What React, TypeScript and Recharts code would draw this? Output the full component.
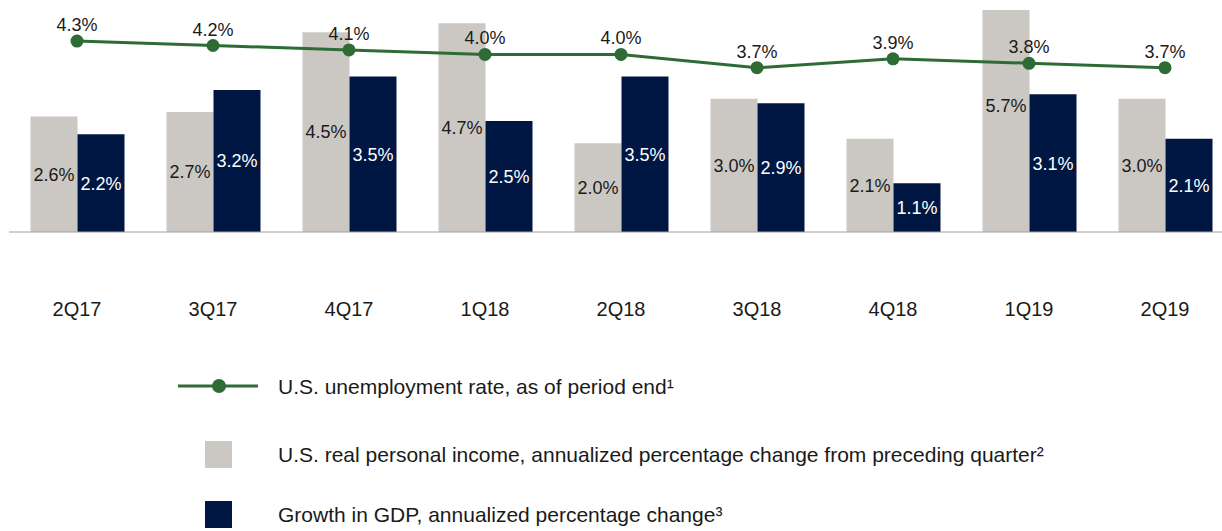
import { Bar, ComposedChart, LabelList, Line, XAxis, YAxis } from 'recharts';

const quarters = ['2Q17', '3Q17', '4Q17', '1Q18', '2Q18', '3Q18', '4Q18', '1Q19', '2Q19'];
const unemployment = [4.3, 4.2, 4.1, 4.0, 4.0, 3.7, 3.9, 3.8, 3.7];
const personalIncome = [2.6, 2.7, 4.5, 4.7, 2.0, 3.0, 2.1, 5.7, 3.0];
const gdpGrowth = [2.2, 3.2, 3.5, 2.5, 3.5, 2.9, 1.1, 3.1, 2.1];

const GREEN = '#2e6b35';
const GRAY = '#cbc8c3';
const NAVY = '#001743';
const FONT = '"Liberation Sans", Arial, sans-serif';

const data = quarters.map((q, i) => ({
  quarter: q,
  unemployment: unemployment[i],
  income: personalIncome[i],
  gdp: gdpGrowth[i],
}));

const pct = (v: any) => `${Number(v).toFixed(1)}%`;

function LegendRow({ top, icon, text }: { top: number; icon: React.ReactNode; text: string }) {
  return (
    <div style={{ position: 'absolute', left: 0, top, height: 0 }}>
      {icon}
      <span
        style={{
          position: 'absolute',
          left: 278,
          top: 0,
          transform: 'translateY(-50%)',
          whiteSpace: 'nowrap',
          fontSize: 21,
          color: '#1a1a1a',
          lineHeight: 1,
        }}
      >
        {text}
      </span>
    </div>
  );
}

export default function App() {
  return (
    <div
      style={{
        position: 'fixed',
        left: 0,
        top: 0,
        width: 1222,
        height: 531,
        overflow: 'hidden',
        background: '#fff',
        fontFamily: FONT,
      }}
    >
      <ComposedChart
        width={1240}
        height={340}
        data={data}
        margin={{ top: 10, right: 7, left: 9, bottom: 0 }}
        barCategoryGap={21.5}
        barGap={0}
        style={{ fontFamily: FONT }}
      >
        <XAxis
          dataKey="quarter"
          height={108}
          tickLine={false}
          tickSize={0}
          tickMargin={70}
          axisLine={{ stroke: '#a0a0a0', strokeWidth: 1 }}
          tick={{ fontSize: 20, fill: '#1a1a1a' }}
          interval={0}
        />
        <YAxis hide domain={[0, 5]} allowDataOverflow />
        <Bar dataKey="income" fill={GRAY} isAnimationActive={false}>
          <LabelList
            dataKey="income"
            position="center"
            formatter={pct}
            style={{ fontSize: 18, fill: '#1a1a1a' }}
          />
        </Bar>
        <Bar dataKey="gdp" fill={NAVY} isAnimationActive={false}>
          <LabelList
            dataKey="gdp"
            position="center"
            formatter={pct}
            style={{ fontSize: 18, fill: '#ffffff' }}
          />
        </Bar>
        <Line
          dataKey="unemployment"
          type="linear"
          stroke={GREEN}
          strokeWidth={3}
          dot={{ r: 6.5, fill: GREEN, stroke: GREEN, strokeWidth: 0 }}
          isAnimationActive={false}
        >
          <LabelList
            dataKey="unemployment"
            position="top"
            offset={10}
            formatter={pct}
            style={{ fontSize: 18, fill: '#1a1a1a' }}
          />
        </Line>
      </ComposedChart>

      <LegendRow
        top={386}
        text="U.S. unemployment rate, as of period end¹"
        icon={
          <svg width={90} height={20} style={{ position: 'absolute', left: 175, top: -10 }}>
            <line x1={3} y1={10} x2={83} y2={10} stroke={GREEN} strokeWidth={3} />
            <circle cx={44} cy={10} r={7} fill={GREEN} />
          </svg>
        }
      />
      <LegendRow
        top={454}
        text="U.S. real personal income, annualized percentage change from preceding quarter²"
        icon={
          <div
            style={{ position: 'absolute', left: 205, top: -13, width: 27, height: 27, background: GRAY }}
          />
        }
      />
      <LegendRow
        top={514}
        text="Growth in GDP, annualized percentage change³"
        icon={
          <div
            style={{ position: 'absolute', left: 205, top: -13, width: 27, height: 27, background: NAVY }}
          />
        }
      />
    </div>
  );
}
